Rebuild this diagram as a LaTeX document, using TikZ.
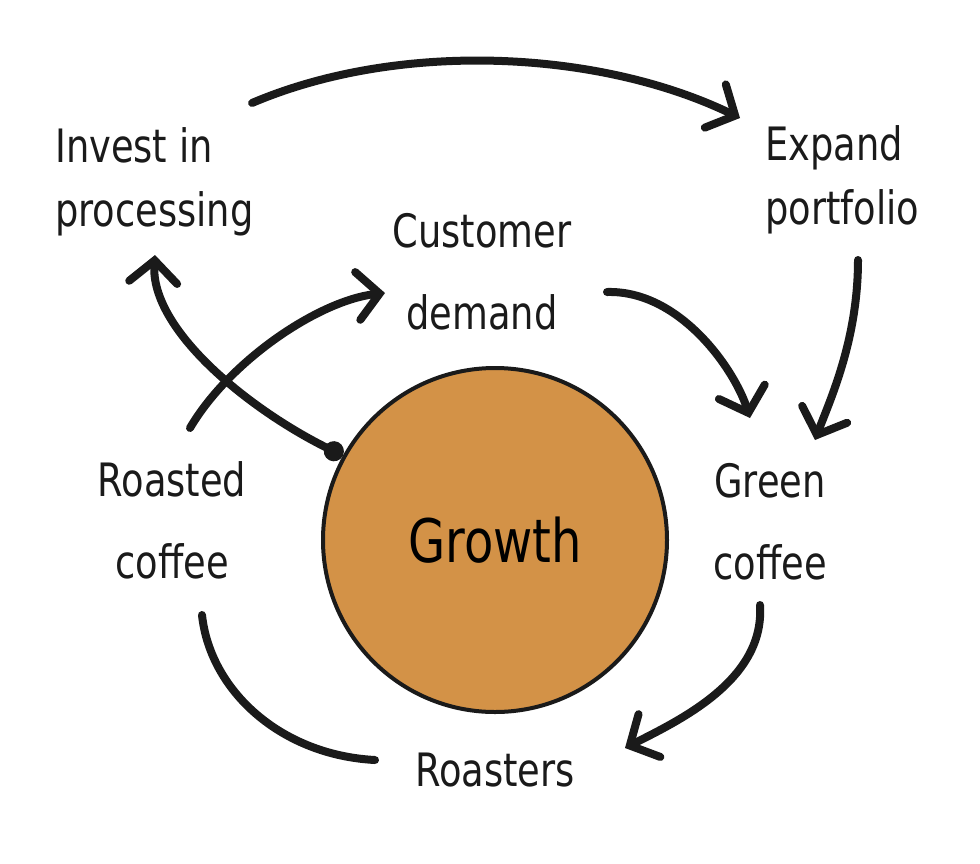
\documentclass[tikz,border=0pt]{standalone}
\usepackage{fontspec}
\setmainfont[FakeStretch=0.8]{DejaVu Sans}
\usetikzlibrary{arrows.meta}
\definecolor{growthfill}{HTML}{D39247}
\definecolor{ink}{HTML}{1A1A1A}
\tikzset{
  lbl/.style={font=\fontsize{46}{64}\selectfont, text=ink, inner sep=0pt},
  lblwide/.style={lbl, font=\fontsize{46}{82}\selectfont},
  conn/.style={draw=ink, line width=8pt, line cap=round, line join=round},
  barb/.style={-{Straight Barb[length=22pt, width=48pt, line width=8pt, line cap=round]}},
  arr/.style={conn, barb},
}
\begin{document}
\begin{tikzpicture}[x=1pt, y=-1pt]
\useasboundingbox (0,0) rectangle (980,863);
\node[circle, draw=ink, line width=4pt, fill=growthfill, minimum size=344pt, inner sep=0pt,
      font=\fontsize{60}{62}\selectfont] (growth) at (495,540) {Growth};
\node[lbl, anchor=west, align=left] (invest) at (55,182) {Invest in\\processing};
\node[lbl, anchor=west, align=left] (expand) at (765,180) {Expand\\portfolio};
\node[lblwide, align=center] (demand) at (482,272) {Customer\\demand};
\node[lblwide, align=center] (roasted) at (172,520) {Roasted\\coffee};
\node[lblwide, align=center] (green) at (770,522) {Green\\coffee};
\node[lbl] (roasters) at (495,770) {Roasters};

\coordinate (a1s) at (252,103); \coordinate (a1e) at (740,118);
\coordinate (a2s) at (858,260); \coordinate (a2e) at (815,440);
\coordinate (a3s) at (607,292); \coordinate (a3e) at (750,418);
\coordinate (a4s) at (760,605); \coordinate (a4e) at (625,748);
\coordinate (a5s) at (375,760); \coordinate (a5e) at (202,615);
\coordinate (a6s) at (190,428); \coordinate (a6e) at (385,293);
\coordinate (a7e) at (155,255);

\draw[arr] (a1s) .. controls (400,40) and (600,50) .. (a1e);
\draw[arr] (a2s) .. controls (858,340) and (830,400) .. (a2e);
\draw[arr] (a3s) .. controls (680,290) and (735,370) .. (a3e);
\draw[arr] (a4s) .. controls (765,680) and (680,720) .. (a4e);
\draw[conn] (a5s) .. controls (280,755) and (210,690) .. (a5e);
\draw[arr] (a6s) .. controls (230,360) and (320,300) .. (a6e);
\draw[conn, {Circle[length=20pt]}-{Straight Barb[length=22pt, width=48pt, line width=8pt, line cap=round]}]
  (growth.151) .. controls (250,410) and (150,330) .. (a7e);
\end{tikzpicture}
\end{document}
